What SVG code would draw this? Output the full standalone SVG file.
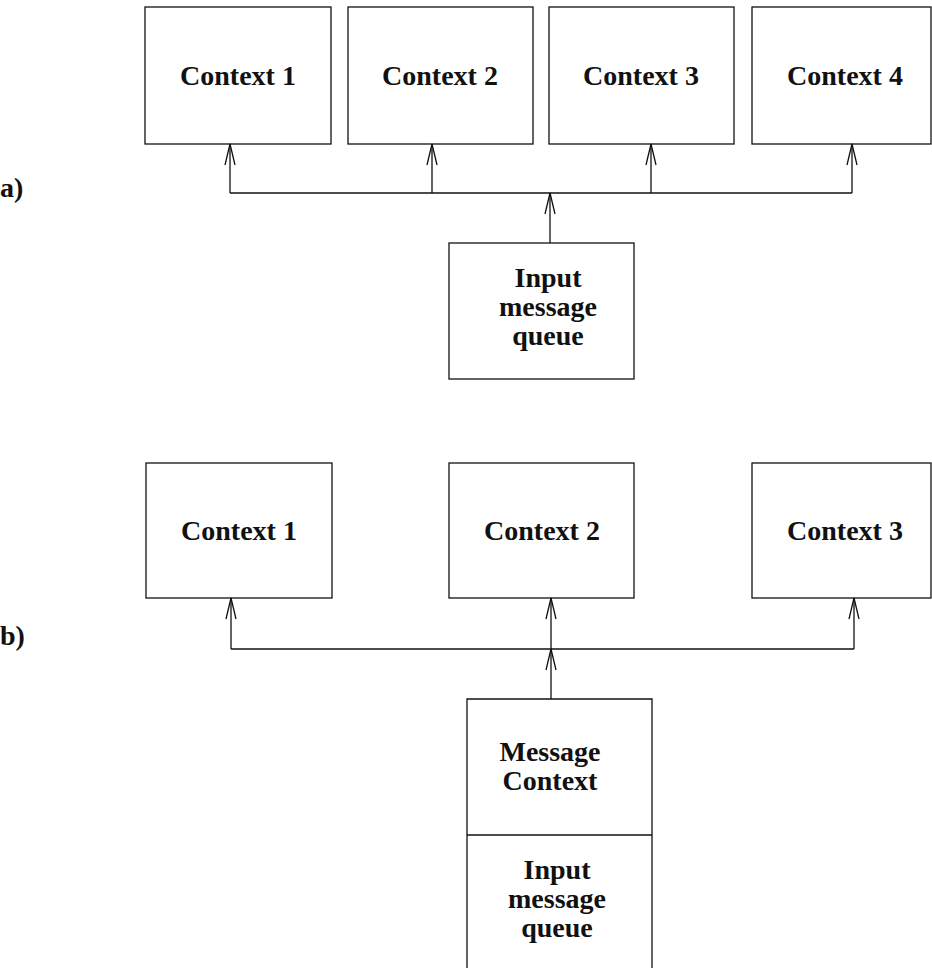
<svg xmlns="http://www.w3.org/2000/svg" width="932" height="968" viewBox="0 0 932 968">
  <style>
    .box { fill: #fff; stroke: #111; stroke-width: 1.3; }
    .lbl { font-family: "Liberation Serif", "Times New Roman", serif; font-weight: bold; font-size: 28px; fill: #111; text-anchor: middle; }
    .tag { font-family: "Liberation Serif", "Times New Roman", serif; font-weight: bold; font-size: 28px; fill: #111; }
    .wire { fill: none; stroke: #111; stroke-width: 1.3; }
  </style>
  <defs>
    <!-- open V arrowhead, tip at the line end -->
    <marker id="arr" viewBox="-23 -7 25 14" refX="0" refY="0" markerWidth="25" markerHeight="14" markerUnits="userSpaceOnUse" orient="auto">
      <path d="M-21,-5 L0,0 L-21,5" fill="none" stroke="#111" stroke-width="1.3"/>
    </marker>
  </defs>
  <rect width="932" height="968" fill="#fff"/>

  <!-- part a -->
  <text class="tag" x="0" y="197">a)</text>
  <g id="a-ctx1"><rect class="box" x="145" y="7" width="186" height="137"/><text class="lbl" x="238" y="85">Context 1</text></g>
  <g id="a-ctx2"><rect class="box" x="348" y="7" width="185" height="137"/><text class="lbl" x="440" y="85">Context 2</text></g>
  <g id="a-ctx3"><rect class="box" x="549" y="7" width="185" height="137"/><text class="lbl" x="641" y="85">Context 3</text></g>
  <g id="a-ctx4"><rect class="box" x="752" y="7" width="179" height="137"/><text class="lbl" x="845" y="85">Context 4</text></g>
  <g id="a-queue"><rect class="box" x="449" y="243" width="185" height="136"/>
    <text class="lbl" x="548" y="287">Input</text>
    <text class="lbl" x="548" y="316">message</text>
    <text class="lbl" x="548" y="345">queue</text>
  </g>

  <!-- part b -->
  <text class="tag" x="0" y="645">b)</text>
  <g id="b-ctx1"><rect class="box" x="146" y="463" width="186" height="135"/><text class="lbl" x="239" y="540">Context 1</text></g>
  <g id="b-ctx2"><rect class="box" x="449" y="463" width="185" height="135"/><text class="lbl" x="542" y="540">Context 2</text></g>
  <g id="b-ctx3"><rect class="box" x="752" y="463" width="179" height="135"/><text class="lbl" x="845" y="540">Context 3</text></g>
  <g id="b-msgctx">
    <path class="box" d="M467,968 L467,699 L652,699 L652,968"/>
    <line class="wire" x1="467" y1="835" x2="652" y2="835"/>
    <text class="lbl" x="550" y="761">Message</text>
    <text class="lbl" x="550" y="790">Context</text>
    <text class="lbl" x="557" y="879">Input</text>
    <text class="lbl" x="557" y="908">message</text>
    <text class="lbl" x="557" y="937">queue</text>
  </g>

  <g id="connectors">
    <!-- a: bus from the queue to every context -->
    <line class="wire" x1="230" y1="193" x2="852" y2="193"/>
    <line class="wire" x1="230" y1="193" x2="230" y2="144" marker-end="url(#arr)"/>
    <line class="wire" x1="432" y1="193" x2="432" y2="144" marker-end="url(#arr)"/>
    <line class="wire" x1="651" y1="193" x2="651" y2="144" marker-end="url(#arr)"/>
    <line class="wire" x1="852" y1="193" x2="852" y2="144" marker-end="url(#arr)"/>
    <line class="wire" x1="550" y1="243" x2="550" y2="193" marker-end="url(#arr)"/>
    <!-- b: bus from the message context to every context -->
    <line class="wire" x1="231" y1="649" x2="854" y2="649"/>
    <line class="wire" x1="231" y1="649" x2="231" y2="598" marker-end="url(#arr)"/>
    <line class="wire" x1="551" y1="649" x2="551" y2="598" marker-end="url(#arr)"/>
    <line class="wire" x1="854" y1="649" x2="854" y2="598" marker-end="url(#arr)"/>
    <line class="wire" x1="551" y1="699" x2="551" y2="649" marker-end="url(#arr)"/>
  </g>
</svg>
